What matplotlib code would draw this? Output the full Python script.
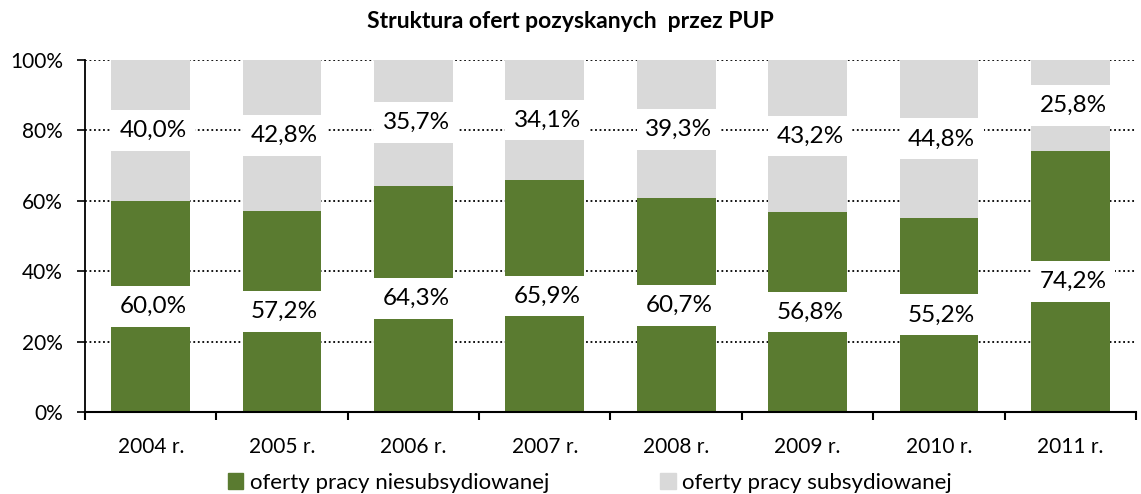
import matplotlib
matplotlib.use("Agg")
import matplotlib.pyplot as plt
import numpy as np
from matplotlib.patches import Patch

plt.rcParams['font.family'] = ['Lato', 'DejaVu Sans']

years = ["2004 r.", "2005 r.", "2006 r.", "2007 r.", "2008 r.", "2009 r.", "2010 r.", "2011 r."]
niesubs = [60.0, 57.2, 64.3, 65.9, 60.7, 56.8, 55.2, 74.2]
subs = [40.0, 42.8, 35.7, 34.1, 39.3, 43.2, 44.8, 25.8]
series_names = ["oferty pracy niesubsydiowanej", "oferty pracy subsydiowanej"]
title = "Struktura ofert pozyskanych  przez PUP"

green = "#5A7B30"
gray = "#D9D9D9"

fig = plt.figure(figsize=(11.41, 4.94), dpi=100)
ax = fig.add_axes([85/1141, 82/494, (1136-85)/1141, 352/494])

x = np.arange(len(years))
bw = 0.6
ax.bar(x, niesubs, width=bw, color=green, zorder=2)
ax.bar(x, subs, bottom=niesubs, width=bw, color=gray, zorder=2)

box_h = 11.6
for i in range(len(years)):
    c1 = niesubs[i] / 2
    c2 = niesubs[i] + subs[i] / 2
    for c, v in ((c1, niesubs[i]), (c2, subs[i])):
        ax.bar(x[i] + 0.02, box_h, bottom=c - box_h / 2, width=bw + 0.04, color="white", zorder=3)
        ax.text(x[i] + 0.02, c, f"{v:.1f}%".replace(".", ","), ha="center", va="center",
                fontsize=17.5, color="black", zorder=4)

ax.set_xlim(-0.5, len(years) - 0.5)
ax.set_ylim(0, 100)
ax.set_yticks([0, 20, 40, 60, 80, 100])
ax.set_yticklabels([f"{t}%" for t in [0, 20, 40, 60, 80, 100]], fontsize=15)
ax.set_xticks(x)
ax.set_xticklabels(years, fontsize=15)
ax.set_xticks(np.arange(-0.5, len(years)), minor=True)
ax.tick_params(axis="x", which="major", length=0, pad=18)
ax.tick_params(axis="x", which="minor", length=6, width=1.5, direction="out")
ax.tick_params(axis="y", length=6, width=1.2, direction="out", pad=10)

ax.yaxis.grid(True, linestyle=(0, (1, 1.5)), color="black", linewidth=1.3, zorder=1)
ax.set_axisbelow(True)
for s in ["top", "right"]:
    ax.spines[s].set_visible(False)
ax.spines["left"].set_linestyle((0, (1, 1)))
ax.spines["left"].set_linewidth(1.3)
ax.spines["bottom"].set_linewidth(1.5)

fig.text(0.5, 1 - 22/494, title, ha="center", va="center", fontsize=16.5, fontweight="bold")

handles = [Patch(color=green), Patch(color=gray)]
fig.legend(handles, series_names, loc="center", bbox_to_anchor=(0.517, 1 - 483/494), ncol=2,
           frameon=False, fontsize=16, handlelength=0.7, handleheight=0.7, handletextpad=0.3,
           columnspacing=5.0)

fig.savefig("out.png", dpi=100)
